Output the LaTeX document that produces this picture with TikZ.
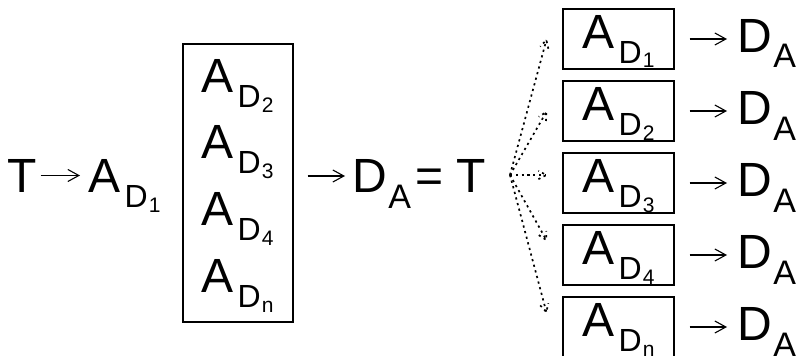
\documentclass[tikz,border=0pt]{standalone}
\usepackage{fontspec}
\setmainfont{Liberation Sans}
\usetikzlibrary{arrows.meta,calc}
\newcommand\ADsub[1]{A\kern4.5pt\raisebox{-15pt}{\fontsize{32}{32}\selectfont D\kern1pt\raisebox{-5pt}{\fontsize{21}{21}\selectfont #1}}}
\newcommand\DAsub{D\kern1.5pt\raisebox{-16pt}{\fontsize{34}{34}\selectfont A}}
\begin{document}
\begin{tikzpicture}[x=1pt,y=-1pt,
  txt/.style={inner sep=0pt, anchor=base west, font=\fontsize{48}{48}\selectfont},
  arr/.style={line width=1.1pt, -{Straight Barb[length=11pt,width=12pt]}},
  fanline/.style={line width=1.7pt, dash pattern=on 2.2pt off 3.6pt},
  boxr/.style={draw, line width=1.3pt, minimum width=111pt, minimum height=60pt, inner sep=0pt}]
\useasboundingbox (0,0) rectangle (801,356);
% left part
\node[txt] (T) at (7,192) {T};
\node[txt] (AD1) at (88,192) {\ADsub{1}};
\draw[arr, shorten <=4pt, shorten >=8pt] (T.east) -- (T.east -| AD1.west);
% big box
\node[draw, line width=1.3pt, minimum width=110pt, minimum height=278pt, inner sep=0pt] (Big) at (238,183) {};
\node[txt] (E2) at (201,92) {\ADsub{2}};
\node[txt] (E3) at (201,158) {\ADsub{3}};
\node[txt] (E4) at (201,225) {\ADsub{4}};
\node[txt] (En) at (201,292) {\ADsub{n}};
% D_A = T
\node[txt] (DA) at (352,192) {\DAsub};
\node[txt] (eq) at (415,192) {=};
\node[txt] (Tr) at (456,192) {T};
\draw[arr, shorten <=14pt, shorten >=7pt] ([yshift=7pt]Big.east) -- ([yshift=7pt]Big.east -| DA.west);
% fan origin
\coordinate (fan) at (510,175);
% right boxes
\foreach \i/\s [count=\k from 0] in {1/1,2/2,3/3,4/4,5/n}{
  \node[boxr] (B\i) at (618.5,39+72*\k) {};
  \node[txt] (R\i) at (582,48+72*\k) {\ADsub{\s}};
  \node[txt] (O\i) at (737,52+72*\k) {\DAsub};
  \draw[arr, shorten <=15pt, shorten >=10pt] (B\i.east) -- (B\i.east -| O\i.west);
}
% dotted fan connectors with dotted heads
\foreach \i/\dy in {1/-1,2/-1,3/8,4/15,5/15}{
  \coordinate (t\i) at ([xshift=-16pt,yshift=\dy pt]B\i.west);
  \draw[fanline] (fan) -- (t\i);
  \draw[fanline] ($(t\i)!9pt!28:(fan)$) -- (t\i) -- ($(t\i)!9pt!-28:(fan)$);
}
\end{tikzpicture}
\end{document}
